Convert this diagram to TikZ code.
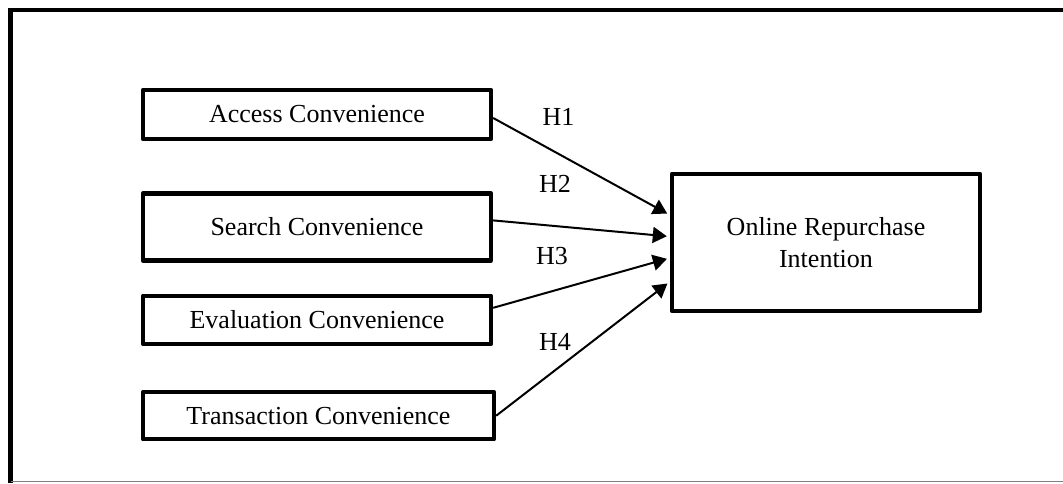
\documentclass[tikz,border=0pt]{standalone}
\usepackage{fontspec}
\setmainfont{Liberation Serif}
\usetikzlibrary{positioning,arrows.meta}

\begin{document}
\begin{tikzpicture}[x=0.5pt,y=-0.5pt,
		every node/.style={font=\fontsize{13}{16}\selectfont},
		conv/.style={draw,line width=2.2pt,line join=round,inner sep=0pt,minimum width=174pt},
		hyp/.style={->,line width=1pt,shorten >=1.5pt},
		>={Triangle[length=7pt,width=8pt]}]
		\useasboundingbox (0,0) rectangle (1063,483);
		% frame
		\draw[line width=2.4pt] (10.5,483) |- (1063,10);
		\draw[gray,line width=0.6pt] (10.5,481.5) -- (1063,481.5);
		% dimensions
		\node(acc)   [conv,minimum height=24.5pt] at (317,114.5) {Access Convenience};
		\node(srch)  [conv,minimum height=33.5pt,below=25pt of acc] {Search Convenience};
		\node(eval)  [conv,minimum height=24pt,below=15.5pt of srch] {Evaluation Convenience};
		\node(trans) [conv,minimum height=23.5pt,minimum width=175.5pt,below=22pt of eval,xshift=0.75pt] {Transaction Convenience};
		\node(ori)   [conv,minimum width=154pt,minimum height=68.5pt,align=center] at (826,242.5) {Online Repurchase\\Intention};
		% hypotheses
		\node(h1) at (558.5,117) {H1};
		\node(h2) at (555,184)   {H2};
		\node(h3) at (552,256)   {H3};
		\node(h4) at (555,342)   {H4};
		\path[hyp]
			([yshift=-1.75pt]acc.east) edge ([yshift=13.75pt]ori.west)
			([yshift=3.25pt]srch.east) edge ([yshift=3pt]ori.west)
			([yshift=6pt]eval.east)    edge ([yshift=-7.75pt]ori.west)
			(trans.east)               edge ([yshift=-19.6pt]ori.west);
	\end{tikzpicture}
\end{document}
